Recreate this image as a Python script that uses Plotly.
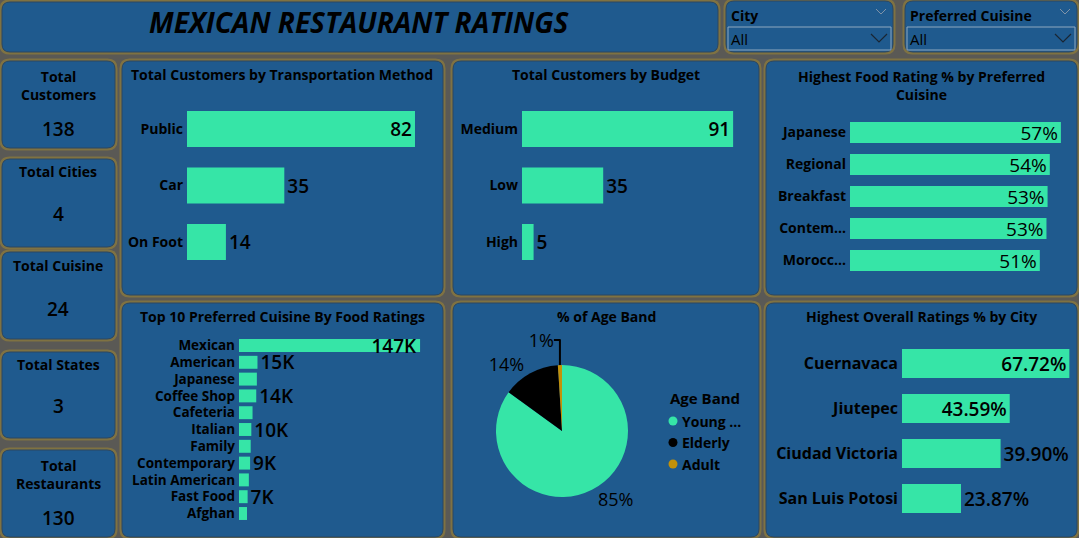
import plotly.graph_objects as go

W, H = 1079, 538

# ---------------- data ----------------
TRANSPORT = ["Public", "Car", "On Foot"]
TRANSPORT_CUSTOMERS = [82, 35, 14]

BUDGET = ["Medium", "Low", "High"]
BUDGET_CUSTOMERS = [91, 35, 5]

FOOD_CUISINES = ["Japanese", "Regional", "Breakfast", "Contem...", "Morocc..."]
FOOD_RATING_PCT = [0.57, 0.54, 0.534, 0.531, 0.513]

TOP_CUISINES = ["Mexican", "American", "Japanese", "Coffee Shop", "Cafeteria", "Italian",
                "Family", "Contemporary", "Latin American", "Fast Food", "Afghan"]
TOP_FOOD_RATINGS = [147000, 15000, 14500, 14000, 11000, 10000, 9500, 9000, 8000, 7000, 6500]
TOP_LABELED = ["Mexican", "American", "Coffee Shop", "Italian", "Contemporary", "Fast Food"]

AGE_BANDS = ["Young ...", "Elderly", "Adult"]
AGE_PCT = [85, 14, 1]

CITIES = ["Cuernavaca", "Jiutepec", "Ciudad Victoria", "San Luis Potosi"]
CITY_RATING_PCT = [0.6772, 0.4359, 0.3990, 0.2387]

KPI_LABELS = ["Total<br>Customers", "Total Cities", "Total Cuisine", "Total States", "Total<br>Restaurants"]
KPI_VALUES = [138, 4, 24, 3, 130]

SLICERS = ["City", "Preferred Cuisine"]
SLICER_VALUES = ["All", "All"]

TITLE = "MEXICAN RESTAURANT RATINGS"

# ---------------- style ----------------
FONT = "Open Sans"
BG = "#5A5955"
GLOW = "#86773F"
PANEL = "#1F5A8E"
EDGE = "#2C4660"
BAR = "#36E5A7"
AGE_COLORS = ["#36E5A7", "#000000", "#C39108"]
TXT = "#000000"


def fx(x):
    return x / W


def fy(y):
    return 1 - y / H


def rrect(x0, y0, x1, y1, r):
    rx, ry = r, r
    pts = [
        f"M {fx(x0 + rx)},{fy(y0)}",
        f"L {fx(x1 - rx)},{fy(y0)}",
        f"Q {fx(x1)},{fy(y0)} {fx(x1)},{fy(y0 + ry)}",
        f"L {fx(x1)},{fy(y1 - ry)}",
        f"Q {fx(x1)},{fy(y1)} {fx(x1 - rx)},{fy(y1)}",
        f"L {fx(x0 + rx)},{fy(y1)}",
        f"Q {fx(x0)},{fy(y1)} {fx(x0)},{fy(y1 - ry)}",
        f"L {fx(x0)},{fy(y0 + ry)}",
        f"Q {fx(x0)},{fy(y0)} {fx(x0 + rx)},{fy(y0)}",
        "Z",
    ]
    return " ".join(pts)


shapes = []
annotations = []


def panel(x0, y0, x1, y1, r=8):
    g = 2.5
    shapes.append(dict(type="path", xref="paper", yref="paper", layer="below",
                       path=rrect(x0 - g, y0 - g, x1 + g, y1 + g, r + 2),
                       fillcolor=GLOW, line=dict(width=0), opacity=0.85))
    shapes.append(dict(type="path", xref="paper", yref="paper", layer="below",
                       path=rrect(x0, y0, x1, y1, r),
                       fillcolor=PANEL, line=dict(color=EDGE, width=1)))


def text(x, y, s, size=14, bold=True, anchor="center", italic=False, color=TXT, weight=None):
    annotations.append(dict(
        x=fx(x), y=fy(y), xref="paper", yref="paper", text=s, showarrow=False,
        xanchor=anchor, yanchor="middle",
        font=dict(family=FONT, size=size, color=color,
                  weight=weight if weight else ("bold" if bold else "normal"),
                  style="italic" if italic else "normal"),
    ))


# ---------------- panels ----------------
panel(2, 2, 718, 52)
panel(726, 1, 893, 52)
panel(905, 1, 1077, 52)
kpi_boxes = [(61, 148), (159, 247), (252, 339), (352, 438), (450, 537)]
for (t, b) in kpi_boxes:
    panel(2, t, 115, b)
panel(122, 61, 443, 295)
panel(453, 61, 759, 295)
panel(766, 61, 1077, 295)
panel(122, 303, 443, 537)
panel(453, 303, 759, 537)
panel(766, 303, 1077, 537)

# title
text(359, 22, TITLE, size=28, bold=True, italic=True)

# slicers
slicer_geo = [(726, 893), (905, 1077)]
for name, val, (x0, x1) in zip(SLICERS, SLICER_VALUES, slicer_geo):
    text(x0 + 3, 15, name, size=14, anchor="left")
    bx0, bx1 = x0 + 2, x1 - 2
    shapes.append(dict(type="rect", xref="paper", yref="paper",
                       x0=fx(bx0), x1=fx(bx1), y0=fy(50), y1=fy(27),
                       line=dict(color="#8FA8BF", width=1), fillcolor="rgba(0,0,0,0)"))
    text(bx0 + 1, 39, val, size=15, bold=False, anchor="left")
    # chevrons
    cx = bx1 - 12
    shapes.append(dict(type="path", xref="paper", yref="paper",
                       path=f"M {fx(cx-8)},{fy(34)} L {fx(cx)},{fy(42)} L {fx(cx+8)},{fy(34)}",
                       line=dict(color="#1A2633", width=1.2)))
    cx2 = x1 - 12
    shapes.append(dict(type="path", xref="paper", yref="paper",
                       path=f"M {fx(cx2-5)},{fy(9)} L {fx(cx2)},{fy(14)} L {fx(cx2+5)},{fy(9)}",
                       line=dict(color="#7F93A8", width=1)))

# KPI cards
kpi_label_y = [85, 172, 265, 364, 474]
kpi_value_y = [129, 214, 309, 406, 518]
for lab, val, ly, vy in zip(KPI_LABELS, KPI_VALUES, kpi_label_y, kpi_value_y):
    text(58, ly, lab, size=14)
    text(58, vy, str(val), size=19, weight=600)

# chart titles
text(282, 74, "Total Customers by Transportation Method", size=14)
text(606, 74, "Total Customers by Budget", size=14)
text(921, 85, "Highest Food Rating % by Preferred<br>Cuisine", size=14)
text(282, 316, "Top 10 Preferred Cuisine By Food Ratings", size=14)
text(606, 316, "% of Age Band", size=14)
text(921, 316, "Highest Overall Ratings % by City", size=14)

# ---------------- bar charts ----------------
fig = go.Figure()
layout_axes = {}


def hbar(idx, cats, vals, texts, xdom, ydom, xrange, width, tick_size, val_size, val_weight=600):
    maxv = max(vals)
    positions = ["inside" if v >= 0.6 * maxv else "outside" for v in vals]
    xa = "x" if idx == 1 else f"x{idx}"
    ya = "y" if idx == 1 else f"y{idx}"
    fig.add_trace(go.Bar(
        x=vals, y=cats, orientation="h", xaxis=xa, yaxis=ya,
        marker=dict(color=BAR, line=dict(width=0)), width=width,
        text=texts, textposition=positions, insidetextanchor="end",
        textfont=dict(family=FONT, size=val_size, color=TXT, weight=val_weight),
        constraintext="none", cliponaxis=False, showlegend=False, hoverinfo="skip",
    ))
    n = len(cats)
    xkey = "xaxis" if idx == 1 else f"xaxis{idx}"
    ykey = "yaxis" if idx == 1 else f"yaxis{idx}"
    layout_axes[xkey] = dict(domain=[fx(xdom[0]), fx(xdom[1])], range=xrange, anchor=ya,
                             showgrid=False, zeroline=False, showline=False,
                             showticklabels=False, ticks="", fixedrange=True)
    layout_axes[ykey] = dict(domain=[fy(ydom[1]), fy(ydom[0])], anchor=xa,
                             type="category", categoryorder="array", categoryarray=cats,
                             tickmode="array", tickvals=cats, ticktext=cats,
                             range=[n - 0.5, -0.5], showgrid=False, zeroline=False,
                             showline=False, ticks="", ticklabelstandoff=3,
                             tickfont=dict(family=FONT, size=tick_size, color=TXT, weight="bold"),
                             fixedrange=True)


hbar(1, TRANSPORT, TRANSPORT_CUSTOMERS, [str(v) for v in TRANSPORT_CUSTOMERS],
     (187, 430), (100.75, 270.25), [0, 87.4], 0.64, 14, 19)
hbar(2, BUDGET, BUDGET_CUSTOMERS, [str(v) for v in BUDGET_CUSTOMERS],
     (522, 754), (100.75, 270.25), [0, 100], 0.64, 14, 19)
hbar(3, FOOD_CUISINES, FOOD_RATING_PCT, [f"{round(v * 100)}%" for v in FOOD_RATING_PCT],
     (850, 1072), (116.5, 276.5), [0, 0.60], 0.66, 14, 19, val_weight="normal")
hbar(4, TOP_CUISINES, TOP_FOOD_RATINGS,
     [f"{round(v / 1000)}K" if c in TOP_LABELED else "" for c, v in zip(TOP_CUISINES, TOP_FOOD_RATINGS)],
     (239, 425), (337.1, 521.9), [0, 151000], 0.77, 13.5, 19)
hbar(5, CITIES, CITY_RATING_PCT, [f"{v * 100:.2f}%" for v in CITY_RATING_PCT],
     (902, 1075), (341, 521), [0, 0.70], 0.64, 16, 19)

# ---------------- pie ----------------
fig.add_trace(go.Pie(
    labels=AGE_BANDS, values=AGE_PCT, sort=False, direction="clockwise", rotation=0,
    marker=dict(colors=AGE_COLORS, line=dict(width=0)),
    texttemplate="%{percent:.0%}", textposition="outside",
    textfont=dict(family=FONT, size=18, color=TXT),
    domain=dict(x=[fx(495), fx(629)], y=[fy(497), fy(365)]),
    showlegend=False, hoverinfo="skip",
))

# legend for pie
text(668, 398, "Age Band", size=15, anchor="left")
for i, (band, col) in enumerate(zip(AGE_BANDS, AGE_COLORS)):
    yy = 421 + i * 21.5
    r = 4.5
    shapes.append(dict(type="circle", xref="paper", yref="paper",
                       x0=fx(673 - r), x1=fx(673 + r), y0=fy(yy + r), y1=fy(yy - r),
                       fillcolor=col, line=dict(width=0)))
    text(680, yy, band, size=14, anchor="left")

fig.update_layout(
    width=W, height=H, autosize=False,
    margin=dict(l=0, r=0, t=0, b=0, pad=0),
    paper_bgcolor=BG, plot_bgcolor="rgba(0,0,0,0)",
    shapes=shapes, annotations=annotations,
    font=dict(family=FONT, color=TXT),
    showlegend=False,
    **layout_axes,
)

fig.write_html("out.html")
